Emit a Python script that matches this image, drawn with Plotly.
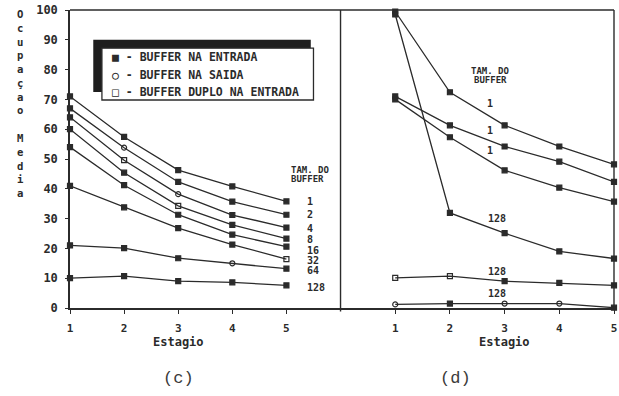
import plotly.graph_objects as go

# ---- data -------------------------------------------------------------
estagios = [1, 2, 3, 4, 5]

# (c) mean occupancy per stage for each buffer size
buffer_c = ["1", "2", "4", "8", "16", "32", "64", "128"]
occ_c = {
    "1":   [71.0, 57.4, 46.3, 40.8, 35.8],
    "2":   [67.0, 53.8, 42.3, 35.7, 31.3],
    "4":   [64.0, 49.6, 38.2, 31.2, 27.0],
    "8":   [60.0, 45.4, 34.3, 27.9, 23.3],
    "16":  [54.0, 41.2, 31.3, 24.6, 20.6],
    "32":  [41.0, 33.8, 26.8, 21.3, 16.4],
    "64":  [21.0, 20.1, 16.7, 15.0, 13.2],
    "128": [10.0, 10.7, 9.0, 8.6, 7.6],
}
sym_c = {
    "1":   ["square"] * 5,
    "2":   ["square", "circle-open", "square", "square", "square"],
    "4":   ["square", "square-open", "circle-open", "square", "square"],
    "8":   ["square", "square", "square-open", "square", "square"],
    "16":  ["square"] * 5,
    "32":  ["square", "square", "square", "square", "square-open"],
    "64":  ["square", "square", "square", "circle-open", "square"],
    "128": ["square"] * 5,
}
label_y_c = [35.8, 31.5, 26.8, 23.1, 19.4, 15.9, 12.6, 7.0]

# (d) mean occupancy per stage
series_d = ["1a", "128a", "1b", "1c", "128b", "128c"]
occ_d = {
    "1a":   [99.5, 72.4, 61.3, 54.2, 48.2],
    "128a": [98.5, 31.9, 25.1, 19.0, 16.6],
    "1b":   [71.0, 61.3, 54.2, 49.1, 42.3],
    "1c":   [70.0, 57.3, 46.2, 40.4, 35.7],
    "128b": [10.1, 10.7, 9.0, 8.4, 7.6],
    "128c": [1.2, 1.5, 1.5, 1.5, 0.1],
}
sym_d = {
    "1a":   ["square"] * 5,
    "128a": ["square"] * 5,
    "1b":   ["square"] * 5,
    "1c":   ["square"] * 5,
    "128b": ["square-open", "square-open", "square", "square", "square"],
    "128c": ["circle-open", "square", "circle-open", "circle-open", "square"],
}
labels_d = ["1", "1", "1", "128", "128", "128"]
label_y_d = [68.5, 59.7, 53.0, 30.2, 12.1, 4.7]

legend_items = [
    "\u25a0 - BUFFER NA ENTRADA",
    "\u25cb - BUFFER NA SAIDA",
    "\u25a1 - BUFFER DUPLO NA ENTRADA",
]
y_ticks = [0, 10, 20, 30, 40, 50, 60, 70, 80, 90, 100]
y_title = "Ocupaçao Media"

# ---- style ------------------------------------------------------------
INK = "#2b2b2b"
MONO = "DejaVu Sans Mono"
SPLIT = 0.4973

fig = go.Figure()

def add_line(xs, ys, syms, xaxis):
    fig.add_trace(go.Scatter(
        x=xs, y=ys, mode="lines+markers", xaxis=xaxis, yaxis="y",
        line=dict(color=INK, width=1.3),
        marker=dict(symbol=syms, size=5, color=INK, line=dict(color=INK, width=1.2)),
        showlegend=False, hoverinfo="x+y", cliponaxis=False,
    ))

for b in buffer_c:
    add_line(estagios, occ_c[b], sym_c[b], "x")
for s in series_d:
    add_line(estagios, occ_d[s], sym_d[s], "x2")

small_bold = dict(family=MONO, size=9, color=INK, weight="bold")
num_bold = dict(family=MONO, size=10, color=INK, weight="bold")
ann = []

# buffer-size labels, panel (c)
ann.append(dict(x=5.04, y=46.2, xref="x", yref="y", text="TAM. DO", showarrow=False,
                xanchor="left", font=small_bold))
ann.append(dict(x=5.04, y=43.2, xref="x", yref="y", text="BUFFER", showarrow=False,
                xanchor="left", font=small_bold))
for t, yy in zip(buffer_c, label_y_c):
    ann.append(dict(x=5.35, y=yy, xref="x", yref="y", text=t, showarrow=False,
                    xanchor="left", font=num_bold))

# buffer-size labels, panel (d)
ann.append(dict(x=2.74, y=79.4, xref="x2", yref="y", text="TAM. DO", showarrow=False,
                font=small_bold))
ann.append(dict(x=2.74, y=76.4, xref="x2", yref="y", text="BUFFER", showarrow=False,
                font=small_bold))
for t, yy in zip(labels_d, label_y_d):
    ann.append(dict(x=2.74 if t == "1" else 2.86, y=yy, xref="x2", yref="y", text=t,
                    showarrow=False, font=num_bold))

# axis titles and panel captions
for xr in ("x", "x2"):
    ann.append(dict(x=3, y=-0.113, xref=xr, yref="paper", yanchor="middle", text="Estagio",
                    showarrow=False, font=dict(family=MONO, size=12, color=INK, weight="bold")))
ann.append(dict(x=3, y=-0.235, xref="x", yref="paper", yanchor="middle", text="(c)",
                showarrow=False, font=dict(family="Liberation Mono", size=17, color="#3a3a3a")))
ann.append(dict(x=2.1, y=-0.235, xref="x2", yref="paper", yanchor="middle", text="(d)",
                showarrow=False, font=dict(family="Liberation Mono", size=17, color="#3a3a3a")))
ann.append(dict(x=-0.1005, y=1.012, xref="paper", yref="paper", yanchor="top",
                text="<br>".join(list(y_title)), showarrow=False, align="center",
                font=dict(family=MONO, size=10.6, color=INK, weight="bold")))

# legend box with drop shadow, panel (c)
shapes = [
    dict(type="rect", xref="x", yref="y", x0=1.43, x1=5.45, y0=72.5, y1=90.0,
         fillcolor="#1e1e1e", line=dict(width=0), layer="above"),
    dict(type="rect", xref="x", yref="y", x0=1.59, x1=5.50, y0=69.8, y1=87.2,
         fillcolor="white", line=dict(color=INK, width=1.3), layer="above"),
]
for i, t in enumerate(legend_items):
    ann.append(dict(x=1.74, y=84.2 - i * 5.9, xref="x", yref="y", text=t, showarrow=False,
                    xanchor="left", font=dict(family=MONO, size=11.5, color=INK, weight="bold")))

# frame: top, right edge and panel separator
shapes += [
    dict(type="line", xref="paper", yref="paper", x0=0, x1=1, y0=1, y1=1,
         line=dict(color=INK, width=1.4)),
    dict(type="line", xref="paper", yref="paper", x0=1, x1=1, y0=0, y1=1,
         line=dict(color=INK, width=1.4)),
    dict(type="line", xref="paper", yref="paper", x0=SPLIT, x1=SPLIT, y0=-0.012, y1=1,
         line=dict(color=INK, width=1.4)),
]

axis_common = dict(showline=True, linecolor=INK, linewidth=1.5, showgrid=False,
                   zeroline=False, ticks="outside", ticklen=4, tickcolor=INK, tickwidth=1.2,
                   tickfont=dict(family=MONO, size=11, color=INK, weight="bold"),
                   ticklabelstandoff=5, ticklabeloverflow="allow")

fig.update_layout(
    width=619, height=396,
    margin=dict(l=70, r=2, t=10, b=88),
    paper_bgcolor="white", plot_bgcolor="white",
    showlegend=False,
    xaxis=dict(domain=[0, SPLIT], range=[1, 6], tickvals=estagios, anchor="y", **axis_common),
    xaxis2=dict(domain=[SPLIT, 1], range=[0, 5], tickvals=estagios, anchor="y", **axis_common),
    yaxis=dict(range=[0, 100], tickvals=y_ticks, anchor="x",
               **{**axis_common, "ticklen": 3, "tickfont": dict(family=MONO, size=12, color=INK, weight="bold")}),
    annotations=ann,
    shapes=shapes,
)

fig.write_html("out.html")
